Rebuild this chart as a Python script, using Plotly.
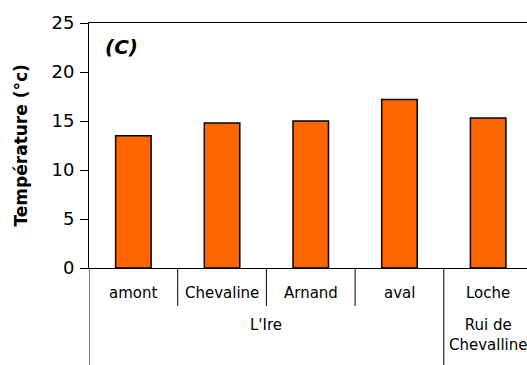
import plotly.graph_objects as go

sites = ["amont", "Chevaline", "Arnand", "aval", "Loche"]
temps = [13.5, 14.8, 15.0, 17.2, 15.3]
groups = ["L'Ire", "Rui de<br>Chevalline"]
group_spans = [(0, 3), (4, 4)]
y_ticks = [0, 5, 10, 15, 20, 25]

xs = list(range(len(sites)))
fig = go.Figure()
fig.add_trace(go.Bar(
    x=xs, y=temps, width=0.4,
    marker=dict(color="#FF6600", line=dict(color="black", width=1.5)),
))

W, H = 527, 365
ml, mt, mb = 89, 23, 97
plot_w = W - ml
cat_w = 88.7
xmax = -0.5 + plot_w / cat_w
plot_h = H - mt - mb

fnt = "DejaVu Sans, Arial, sans-serif"
fig.update_layout(
    width=W, height=H, margin=dict(l=ml, r=0, t=mt, b=mb, autoexpand=False),
    plot_bgcolor="white", paper_bgcolor="white", showlegend=False,
    font=dict(family=fnt, color="black"),
    xaxis=dict(range=[-0.5, xmax], showticklabels=False, ticks="",
               showgrid=False, zeroline=False, showline=True, automargin=False,
               linecolor="black", linewidth=1, mirror=True),
    yaxis=dict(range=[0, 25], tickvals=y_ticks, ticks="outside", ticklen=8,
               tickcolor="black", showgrid=False, zeroline=False,
               showline=True, linecolor="black", linewidth=1, automargin=False,
               tickfont=dict(size=18, family=fnt), ticklabelstandoff=2),
)

px = lambda p: p / plot_h
fig.add_annotation(x=(20 - ml) / plot_w, y=0.5, xref="paper", yref="paper",
                   text="<b>Température (°c)</b>", textangle=-90,
                   showarrow=False, font=dict(size=17),
                   xanchor="center", yanchor="middle")

row1 = -px(38)
bottom = -px(mb)
for i, s in enumerate(sites):
    fig.add_annotation(x=i, y=-px(25), xref="x", yref="paper", text=s,
                       showarrow=False, font=dict(size=15),
                       yanchor="middle")
for i in range(len(sites)):
    b = i - 0.5
    starts_group = any(b == g0 - 0.5 for g0, _ in group_spans)
    fig.add_shape(type="line", xref="x", yref="paper", x0=b, x1=b,
                  y0=0, y1=bottom if starts_group else row1,
                  line=dict(color="black", width=1))
for g, (a, b) in zip(groups, group_spans):
    fig.add_annotation(x=(a + b) / 2, y=-px(46), xref="x",
                       yref="paper", text=g, showarrow=False,
                       font=dict(size=15), yanchor="top")

fig.add_annotation(x=(103 - ml) / plot_w, y=(268 - 47) / plot_h,
                   xref="paper", yref="paper",
                   text="<b><i>(C)</i></b>", showarrow=False,
                   font=dict(size=20), xanchor="left", yanchor="middle")

fig.write_html("out.html", config={"displayModeBar": False},
               post_script="document.body.style.margin='0';"
                           "document.body.style.overflow='hidden';")
